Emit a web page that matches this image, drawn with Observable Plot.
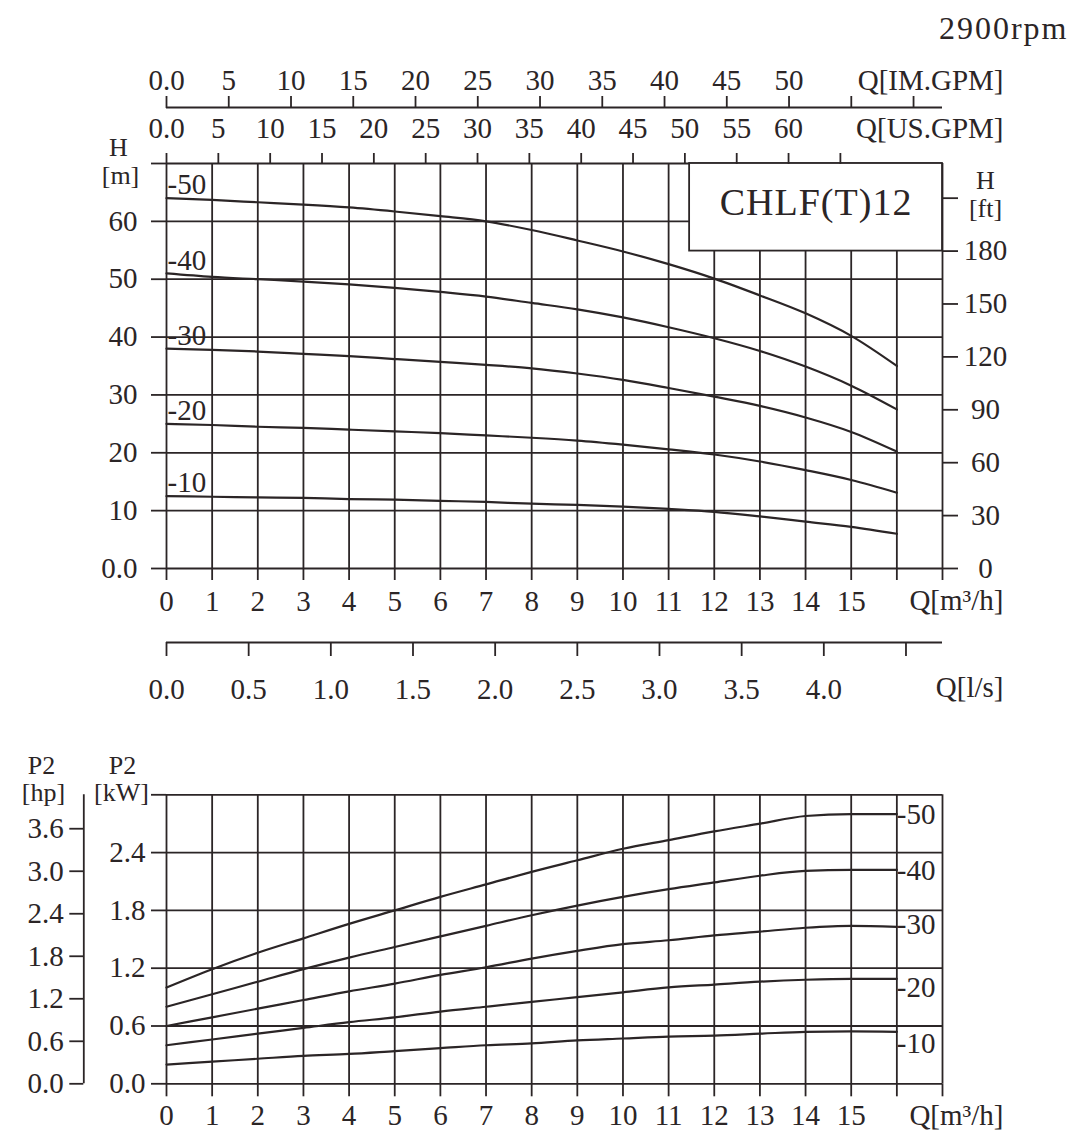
<!DOCTYPE html>
<html>
<head>
<meta charset="utf-8">
<script src="https://cdn.jsdelivr.net/npm/d3@7"></script>
<script src="https://cdn.jsdelivr.net/npm/@observablehq/plot@0.6"></script>
<style>
  body { margin: 0; background: #fff; }
  #wrap { position: relative; width: 1077px; height: 1130px; overflow: hidden; background: #fff; }
  #top, #bottom { position: absolute; left: 0; }
  #top { top: 0; }
  #bottom { top: 720px; }
</style>
</head>
<body>
<div id="wrap"><div id="top"></div><div id="bottom"></div></div>
<script>
const INK = "#2b2526";
const FONT = "'Liberation Serif', 'DejaVu Serif', serif";

// ---- data ----
const flow = [0, 1, 2, 3, 4, 5, 6, 7, 8, 9, 10, 11, 12, 13, 14, 15, 16];   // m3/h
const stages = [50, 40, 30, 20, 10];

const head50 = [64.0, 63.7, 63.3, 62.9, 62.4, 61.7, 60.9, 60.0, 58.5, 56.7, 54.8, 52.6, 50.1, 47.2, 44.1, 40.2, 35.0];
const head40 = [51.0, 50.4, 50.0, 49.6, 49.1, 48.5, 47.8, 47.0, 45.9, 44.8, 43.4, 41.7, 39.8, 37.6, 34.9, 31.6, 27.5];
const head30 = [38.0, 37.8, 37.5, 37.1, 36.7, 36.2, 35.7, 35.2, 34.6, 33.7, 32.6, 31.2, 29.7, 28.1, 26.1, 23.6, 20.2];
const head20 = [25.0, 24.8, 24.5, 24.3, 24.0, 23.7, 23.4, 23.0, 22.6, 22.1, 21.4, 20.6, 19.7, 18.5, 17.0, 15.3, 13.1];
const head10 = [12.5, 12.4, 12.3, 12.2, 12.0, 11.9, 11.7, 11.5, 11.2, 11.0, 10.7, 10.3, 9.8, 9.0, 8.1, 7.2, 6.0];

const power50 = [1.00, 1.19, 1.36, 1.51, 1.66, 1.80, 1.94, 2.07, 2.20, 2.32, 2.44, 2.53, 2.62, 2.70, 2.78, 2.80, 2.80];
const power40 = [0.80, 0.93, 1.06, 1.19, 1.31, 1.42, 1.53, 1.64, 1.75, 1.85, 1.94, 2.02, 2.09, 2.16, 2.21, 2.22, 2.22];
const power30 = [0.60, 0.69, 0.78, 0.87, 0.96, 1.04, 1.13, 1.21, 1.30, 1.38, 1.45, 1.49, 1.54, 1.58, 1.62, 1.64, 1.63];
const power20 = [0.40, 0.46, 0.52, 0.58, 0.64, 0.69, 0.75, 0.80, 0.85, 0.90, 0.95, 1.00, 1.03, 1.06, 1.08, 1.09, 1.09];
const power10 = [0.20, 0.23, 0.26, 0.29, 0.31, 0.34, 0.37, 0.40, 0.42, 0.45, 0.47, 0.49, 0.50, 0.52, 0.54, 0.545, 0.54];
const powerLabelAt = [2.79, 2.21, 1.65, 1.00, 0.42];   // kW where the right-hand stage labels sit

// ---- ticks & labels ----
const qTicks  = [0, 1, 2, 3, 4, 5, 6, 7, 8, 9, 10, 11, 12, 13, 14, 15, 16, 17];
const qLabels = ["0", "1", "2", "3", "4", "5", "6", "7", "8", "9", "10", "11", "12", "13", "14", "15", "", ""];
const imTicks  = [0, 5, 10, 15, 20, 25, 30, 35, 40, 45, 50, 55, 60];
const imLabels = ["0.0", "5", "10", "15", "20", "25", "30", "35", "40", "45", "50", "", ""];
const usTicks  = [0, 5, 10, 15, 20, 25, 30, 35, 40, 45, 50, 55, 60, 65];
const usLabels = ["0.0", "5", "10", "15", "20", "25", "30", "35", "40", "45", "50", "55", "60", ""];
const lsTicks  = [0, 0.5, 1.0, 1.5, 2.0, 2.5, 3.0, 3.5, 4.0, 4.5];
const lsLabels = ["0.0", "0.5", "1.0", "1.5", "2.0", "2.5", "3.0", "3.5", "4.0", ""];
const hTicks  = [0, 10, 20, 30, 40, 50, 60, 70];
const hLabels = ["0.0", "10", "20", "30", "40", "50", "60", ""];
const ftTicks  = [0, 30, 60, 90, 120, 150, 180, 210];
const ftLabels = ["0", "30", "60", "90", "120", "150", "180", ""];
const kwTicks  = [0, 0.6, 1.2, 1.8, 2.4, 3.0];
const kwLabels = ["0.0", "0.6", "1.2", "1.8", "2.4", ""];
const hpTicks  = [0, 0.6, 1.2, 1.8, 2.4, 3.0, 3.6];
const hpLabels = ["0.0", "0.6", "1.2", "1.8", "2.4", "3.0", "3.6"];

const modelName = "CHLF(T)12";
const speedText = "2900rpm";
const modelBox = {x1: 11.46, x2: 17, y1: 54.86, y2: 70};

// unit conversions (secondary axes expressed in primary units)
const IMGPM_PER_M3H = 3.6662;
const USGPM_PER_M3H = 4.4029;
const M3H_PER_LS = 3.6;
const M_PER_FT = 0.3048;
const KW_PER_HP = 0.7355;

// ---- tables ----
const heads = [head50, head40, head30, head20, head10];
const powers = [power50, power40, power30, power20, power10];
const headRows = stages.flatMap((s, k) => flow.map((q, i) => ({stage: s, q, h: heads[k][i]})));
const powerRows = stages.flatMap((s, k) => flow.map((q, i) => ({stage: s, q, p: powers[k][i]})));

function fmtMap(values, labels) {
  const m = new Map(values.map((v, i) => [v, labels[i]]));
  return d => m.get(d) ?? "";
}
const imVals = imTicks.map(v => v / IMGPM_PER_M3H);
const usVals = usTicks.map(v => v / USGPM_PER_M3H);
const lsVals = lsTicks.map(v => v * M3H_PER_LS);
const ftVals = ftTicks.map(v => v * M_PER_FT);
const hpVals = hpTicks.map(v => v * KW_PER_HP);

const qMax = qTicks[qTicks.length - 1];
const lineStyle = {stroke: INK, strokeWidth: 1.8};
const style = {fontFamily: FONT, fontSize: "29px", color: INK, background: "transparent", overflow: "visible"};
const ax = {strokeWidth: 1.8, label: null};
const lbl = (t, o) => Plot.text([t], {text: d => d, lineAnchor: "middle", textAnchor: "middle", fill: INK, ...o});

// ---- top panel: head ----
const topPlot = Plot.plot({
  width: 1077, height: 720,
  marginLeft: 166, marginRight: 135, marginTop: 163, marginBottom: 152,
  style,
  x: {domain: [0, qMax], label: null},
  y: {domain: [0, 70], label: null},
  marks: [
    Plot.ruleX(qTicks, {y1: 0, y2: 70, ...lineStyle}),
    Plot.ruleY(hTicks, {x1: 0, x2: qMax, ...lineStyle}),
    Plot.rect([modelBox], {x1: "x1", x2: "x2", y1: "y1", y2: "y2", fill: "white", ...lineStyle}),
    Plot.text([modelName], {x: (modelBox.x1 + modelBox.x2) / 2, y: (modelBox.y1 + modelBox.y2) / 2, text: d => d, fontSize: 38, dy: -4, fill: INK}),
    Plot.line(headRows, {x: "q", y: "h", z: "stage", curve: "monotone-x", stroke: INK, strokeWidth: 2.2}),
    Plot.text(stages, {x: 0, y: (d, i) => heads[i][0], text: d => "-" + d, textAnchor: "start", dx: 1, dy: -13, fill: INK}),
    // axes
    Plot.axisY(hTicks, {anchor: "left", tickSize: 15, tickPadding: 14, tickFormat: fmtMap(hTicks, hLabels), ...ax}),
    Plot.axisY(ftVals, {anchor: "right", tickSize: 15, tickPadding: 28, textAnchor: "middle", tickFormat: fmtMap(ftVals, ftLabels), ...ax}),
    Plot.axisX(qTicks, {anchor: "bottom", tickSize: 12, tickPadding: 10, tickFormat: fmtMap(qTicks, qLabels), ...ax}),
    Plot.axisX(usVals, {anchor: "top", tickSize: 11, tickPadding: 15, tickFormat: fmtMap(usVals, usLabels), ...ax}),
    Plot.ruleY([70], {x1: 0, x2: qMax, dy: -56, ...lineStyle}),
    Plot.axisX(imVals, {anchor: "top", dy: -56, tickSize: 12, tickPadding: 6, tickFormat: fmtMap(imVals, imLabels), ...ax}),
    Plot.ruleY([0], {x1: 0, x2: qMax, dy: 74, ...lineStyle}),
    Plot.axisX(lsVals, {anchor: "bottom", dy: 74, tickSize: 14, tickPadding: 22, tickFormat: fmtMap(lsVals, lsLabels), ...ax}),
    // unit labels
    lbl(speedText, {frameAnchor: "top-right", dx: 126, dy: -135, textAnchor: "end", fontSize: 32}),
    lbl("Q[IM.GPM]", {frameAnchor: "top-right", dx: 61, dy: -83, textAnchor: "end"}),
    lbl("Q[US.GPM]", {frameAnchor: "top-right", dx: 61, dy: -35, textAnchor: "end"}),
    lbl("Q[m³/h]", {frameAnchor: "bottom-right", dx: 61, dy: 32, textAnchor: "end"}),
    lbl("Q[l/s]", {frameAnchor: "bottom-right", dx: 61, dy: 119, textAnchor: "end"}),
    lbl("H", {frameAnchor: "top-left", dx: -48, dy: -16, fontSize: 26}),
    lbl("[m]", {frameAnchor: "top-left", dx: -46, dy: 12, fontSize: 26}),
    lbl("H", {frameAnchor: "top-right", dx: 43, dy: 17, fontSize: 26}),
    lbl("[ft]", {frameAnchor: "top-right", dx: 43, dy: 45, fontSize: 26})
  ]
});
document.getElementById("top").appendChild(topPlot);

// ---- bottom panel: power ----
const botPlot = Plot.plot({
  width: 1077, height: 410,
  marginLeft: 166, marginRight: 135, marginTop: 74.3, marginBottom: 46.7,
  style,
  x: {domain: [0, qMax], label: null},
  y: {domain: [0, 3.0], label: null},
  marks: [
    Plot.ruleX(qTicks, {y1: 0, y2: 3.0, ...lineStyle}),
    Plot.ruleY(kwTicks, {x1: 0, x2: qMax, ...lineStyle}),
    Plot.line(powerRows, {x: "q", y: "p", z: "stage", curve: "monotone-x", stroke: INK, strokeWidth: 2.2}),
    Plot.text(stages, {x: flow[flow.length - 1], y: (d, i) => powerLabelAt[i], text: d => "-" + d, textAnchor: "start", dx: 0, lineAnchor: "middle", fill: INK}),
    Plot.axisY(kwTicks, {anchor: "left", tickSize: 15, tickPadding: 6, tickFormat: fmtMap(kwTicks, kwLabels), ...ax}),
    Plot.ruleX([0], {y1: 0, y2: 3.0, dx: -82.7, ...lineStyle}),
    Plot.axisY(hpVals, {anchor: "left", dx: -82.7, tickSize: 14, tickPadding: 6, tickFormat: fmtMap(hpVals, hpLabels), ...ax}),
    Plot.axisX(qTicks, {anchor: "bottom", tickSize: 13, tickPadding: 8, tickFormat: fmtMap(qTicks, qLabels), ...ax}),
    lbl("Q[m³/h]", {frameAnchor: "bottom-right", dx: 61, dy: 32, textAnchor: "end"}),
    lbl("P2", {frameAnchor: "top-left", dx: -125, dy: -29, fontSize: 26}),
    lbl("[hp]", {frameAnchor: "top-left", dx: -123, dy: -2, fontSize: 26}),
    lbl("P2", {frameAnchor: "top-left", dx: -44, dy: -29, fontSize: 26}),
    lbl("[kW]", {frameAnchor: "top-left", dx: -45, dy: -2, fontSize: 26})
  ]
});
document.getElementById("bottom").appendChild(botPlot);

d3.selectAll("svg text").filter(function () { return this.textContent === speedText; }).style("letter-spacing", "2px");
d3.selectAll("svg text").filter(function () { return this.textContent === modelName; }).style("letter-spacing", "1px");
</script>
</body>
</html>
